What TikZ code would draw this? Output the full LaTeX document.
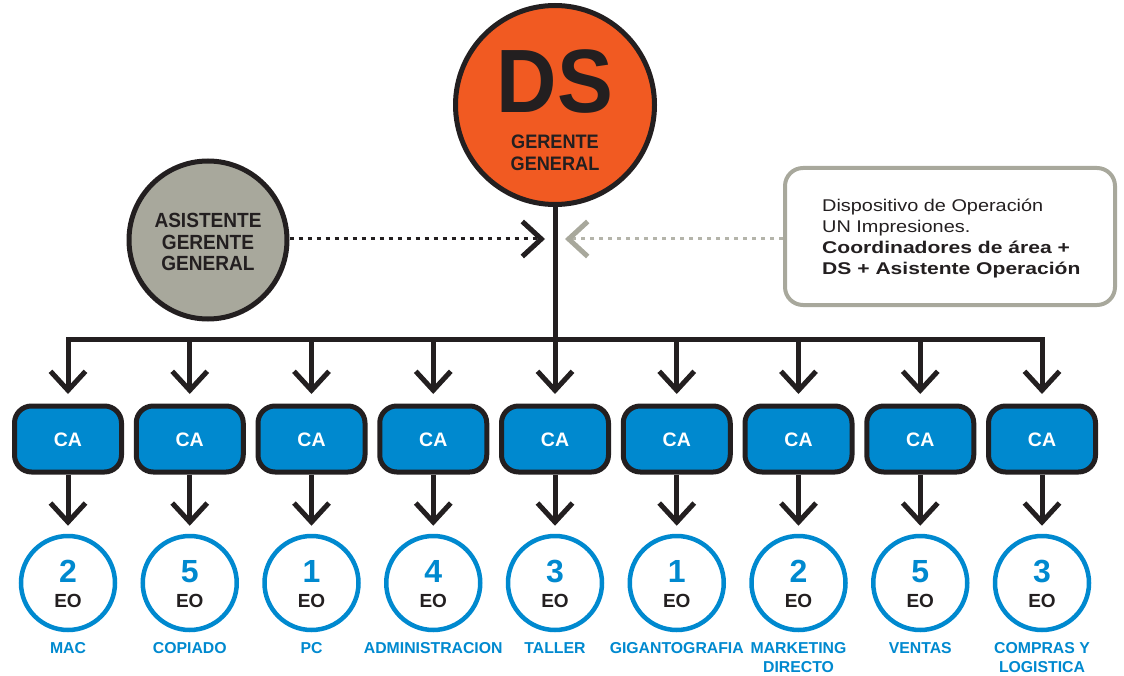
\documentclass[tikz,border=0pt]{standalone}
\usepackage{fontspec}
\setmainfont{Liberation Sans}
\newfontfamily\capsfont{Liberation Sans}[FakeStretch=0.93]
\newfontfamily\notefont{Liberation Sans}[FakeStretch=1.17,BoldFeatures={FakeStretch=1.24}]
\usetikzlibrary{arrows.meta,calc}

\definecolor{dsorange}{HTML}{F15A22}
\definecolor{cablue}{HTML}{0089CF}
\definecolor{asgrey}{HTML}{A8A89C}
\definecolor{dashgrey}{HTML}{B4B4AA}
\definecolor{ink}{HTML}{231F20}

\tikzset{
  chev/.tip={Straight Barb[length=19pt,width=35pt,line width=5pt,sharp]},
  greychev/.tip={Straight Barb[length=19pt,width=35pt,line width=5pt,sharp,color=asgrey]},
  wire/.style={draw=ink,line width=5pt},
  dsnode/.style={circle,draw=ink,line width=5pt,fill=dsorange,minimum size=199pt,inner sep=0pt},
  asnode/.style={circle,draw=ink,line width=5pt,fill=asgrey,minimum size=158pt,inner sep=0pt},
  notebox/.style={rectangle,rounded corners=18pt,draw=asgrey,line width=4pt,minimum width=330pt,minimum height=137pt,inner sep=0pt},
  cabox/.style={rectangle,rounded corners=17pt,draw=ink,line width=5pt,fill=cablue,minimum width=107pt,minimum height=66pt,inner sep=0pt},
  eoring/.style={circle,draw=cablue,line width=4.5pt,minimum size=94pt,inner sep=0pt},
  txt/.style={inner sep=0pt,anchor=base,text=ink},
  bigds/.style={txt,font=\capsfont\bfseries\fontsize{90}{90}\selectfont},
  dstitle/.style={txt,font=\capsfont\bfseries\fontsize{19.5}{22}\selectfont},
  astitle/.style={txt,font=\capsfont\bfseries\fontsize{20.5}{21.5}\selectfont},
  catext/.style={txt,text=white,font=\bfseries\fontsize{19.5}{20}\selectfont},
  numtext/.style={txt,text=cablue,font=\bfseries\fontsize{32}{32}\selectfont},
  eotext/.style={txt,font=\bfseries\fontsize{19}{20}\selectfont},
  areatext/.style={txt,text=cablue,align=center,font=\bfseries\fontsize{15.8}{19}\selectfont},
  notetext/.style={inner sep=0pt,anchor=base west,text=ink,font=\notefont\fontsize{17}{21}\selectfont},
  blackdots/.style={draw=ink,line width=3pt,dash pattern=on 4pt off 5pt},
  greydots/.style={draw=dashgrey,line width=3pt,dash pattern=on 4pt off 5pt},
}

\begin{document}
\begin{tikzpicture}[x=1pt,y=-1pt]
\useasboundingbox (0,0) rectangle (1124,676);

% top of the chart: director and assistant
\node[dsnode] (ds) at (555,105) {};
\node[bigds] (dslabel) at (555,113) {DS};
\node[dstitle] (dst1) at (555,149) {GERENTE};
\node[dstitle] (dst2) at (555,171) {GENERAL};

\node[asnode] (asst) at (208,240) {};
\node[astitle] (ast1) at (208,228) {ASISTENTE};
\node[astitle] (ast2) at (208,250) {GERENTE};
\node[astitle] (ast3) at (208,271) {GENERAL};

% operating committee note
\node[notebox] (note) at (950,236.5) {};
\node[notetext] (nt1) at (822,212) {Dispositivo de Operación};
\node[notetext] (nt2) at (822,233) {UN Impresiones.};
\node[notetext] (nt3) at (822,254) {\bfseries Coordinadores de área +};
\node[notetext] (nt4) at (822,275) {\bfseries DS + Asistente Operación};

% dotted links into the main line
\coordinate (inL) at (545,239);
\coordinate (inR) at (565,239);
\draw[blackdots,-{chev}] (asst.east |- inL) -- (inL);
\draw[greydots,-{greychev}] (note.west |- inR) -- (inR);

% area coordinators and their teams (label baseline is that of its last line)
\foreach \i/\x/\n/\t/\y in {1/68/2/MAC/653,2/189.75/5/COPIADO/653,3/311.5/1/PC/653,4/433.25/4/ADMINISTRACION/653,5/555/3/TALLER/653,6/676.75/1/GIGANTOGRAFIA/653,7/798.5/2/{MARKETING\\DIRECTO}/672,8/920.25/5/VENTAS/653,9/1042/3/{COMPRAS Y\\LOGISTICA}/672}{
  \node[cabox] (ca\i) at (\x,439) {};
  \node[catext] (cat\i) at (\x,446) {CA};
  \node[eoring] (eo\i) at (\x,583) {};
  \node[numtext] (num\i) at (\x,582) {\n};
  \node[eotext] (eot\i) at (\x,607) {EO};
  \node[areatext] (area\i) at (\x,\y) {\t};
}

% distribution bar
\coordinate (bar) at (555,339);
\draw[wire] (ds.south) -- (bar);
\draw[wire,line cap=rect] (bar -| ca1) -- (bar -| ca9);
\foreach \i in {1,...,9}{
  \draw[wire,-{chev},shorten >=9.5pt] (bar -| ca\i) -- (ca\i.north);
  \draw[wire,-{chev},shorten >=8pt] (ca\i.south) -- (eo\i.north);
}
\end{tikzpicture}
\end{document}
